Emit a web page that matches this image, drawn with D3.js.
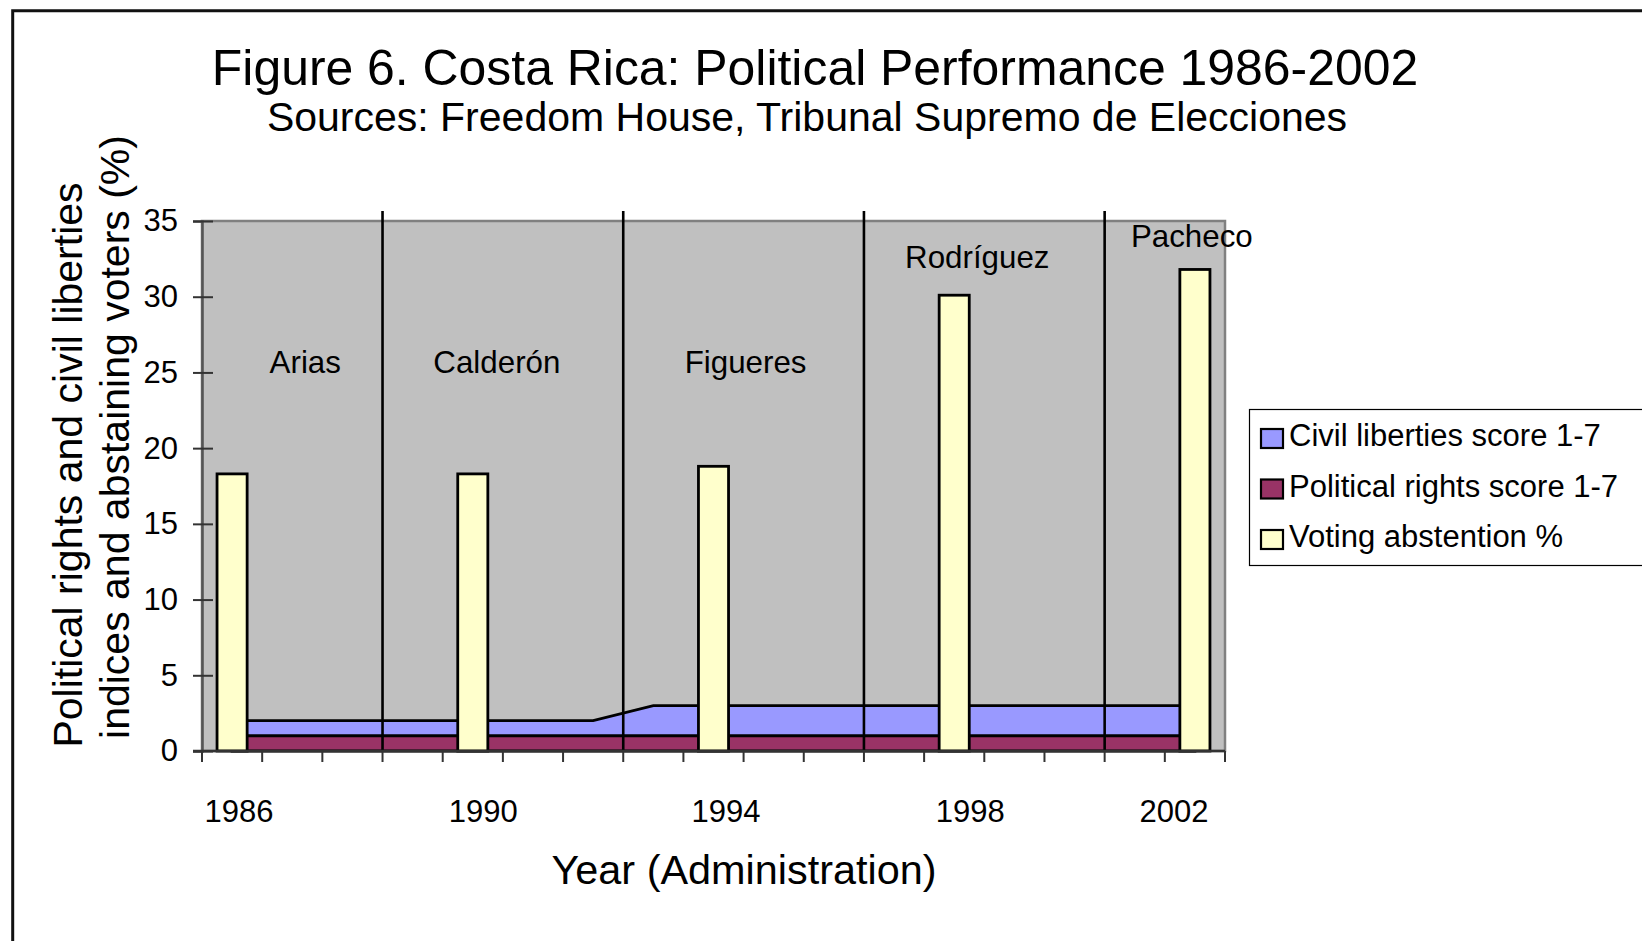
<!DOCTYPE html>
<html>
<head>
<meta charset="utf-8">
<script src="https://cdn.jsdelivr.net/npm/d3@7"></script>
<style>
  html, body { margin: 0; padding: 0; background: #fff; }
  svg { display: block; font-family: "Liberation Sans", Arial, Helvetica, sans-serif; }
</style>
</head>
<body>
<svg id="chart" width="1642" height="941"></svg>
<script>
// Years on the category axis
const years = ["1986","1987","1988","1989","1990","1991","1992","1993","1994",
               "1995","1996","1997","1998","1999","2000","2001","2002"];

// Freedom House political rights score (bottom layer of the stacked area)
const politicalRights = [1,1,1,1,1,1,1,1,1,1,1,1,1,1,1,1,1];
// Freedom House civil liberties score, stacked on top of political rights
const civilLiberties  = [1,1,1,1,1,1,1,2,2,2,2,2,2,2,2,2,2];
// Voting abstention (%) in election years only
const abstention = [18.3,null,null,null,18.3,null,null,null,18.8,
                    null,null,null,30.1,null,null,null,31.8];

// Administrations: name, first and last year shown in its segment
const adminNames = ["Arias","Calderón","Figueres","Rodríguez","Pacheco"];
const adminFrom  = ["1986","1989","1993","1997","2001"];
const adminTo    = ["1988","1992","1996","2000","2002"];

// Axis ticks
const yTicks = [0,5,10,15,20,25,30,35];
const xTickLabels = ["1986","1990","1994","1998","2002"];

// Legend entries
const legendLabels = ["Civil liberties score 1-7","Political rights score 1-7","Voting abstention %"];

// ---- layout ----
const plot = {left: 202, right: 1225, top: 221, bottom: 751};
const colors = {plotBg: "#C0C0C0", civil: "#9999FF", political: "#993366", bar: "#FFFFCC"};
const labelNudge = [13, -6, 2, -7, 27];          // horizontal tweak of administration names
const labelBaseline = [373, 373, 373, 268, 247];  // baselines of administration names
const xLabelNudge = [7, 10.5, 12.5, 16, -21];     // horizontal tweak of year labels

const svg = d3.select("#chart");

const x = d3.scaleBand().domain(years).range([plot.left, plot.right]).paddingInner(0).paddingOuter(0);
const y = d3.scaleLinear().domain([0, 35]).range([plot.bottom, plot.top]);
const bw = x.bandwidth();
const cx = d => x(d) + bw / 2;

// Outer frame of the figure
svg.append("path")
  .attr("d", "M12.7,941 V10.7 H1642")
  .attr("fill", "none").attr("stroke", "#111").attr("stroke-width", 3);

// Title and subtitle
svg.append("text").attr("x", 815).attr("y", 85).attr("text-anchor", "middle")
  .attr("font-size", 49.9).attr("fill", "#000")
  .text("Figure 6. Costa Rica: Political Performance 1986-2002");
svg.append("text").attr("x", 807).attr("y", 131).attr("text-anchor", "middle")
  .attr("font-size", 41).attr("fill", "#000")
  .text("Sources: Freedom House, Tribunal Supremo de Elecciones");

// Plot background
svg.append("rect")
  .attr("x", plot.left).attr("y", plot.top)
  .attr("width", plot.right - plot.left).attr("height", plot.bottom - plot.top)
  .attr("fill", colors.plotBg).attr("stroke", "#808080").attr("stroke-width", 2.5);

// Stacked areas: political rights below, civil liberties above
const table = years.map((yr, i) => ({year: yr, political: politicalRights[i], civil: civilLiberties[i]}));
const stack = d3.stack().keys(["political", "civil"]);
const layers = stack(table);
const area = d3.area()
  .x(d => cx(d.data.year))
  .y0(d => y(d[0]))
  .y1(d => y(d[1]));
const layerFill = {political: colors.political, civil: colors.civil};

svg.append("g").selectAll("path")
  .data(layers.slice().reverse())
  .join("path")
  .attr("d", area)
  .attr("fill", d => layerFill[d.key])
  .attr("stroke", "#000")
  .attr("stroke-width", 2.8)
  .attr("stroke-linejoin", "miter");

// Abstention columns
const barW = bw * 0.5;
svg.append("g").selectAll("rect")
  .data(years.map((yr, i) => ({year: yr, v: abstention[i]})).filter(d => d.v != null))
  .join("rect")
  .attr("x", d => cx(d.year) - barW / 2)
  .attr("y", d => y(d.v))
  .attr("width", barW)
  .attr("height", d => y(0) - y(d.v))
  .attr("fill", colors.bar)
  .attr("stroke", "#000")
  .attr("stroke-width", 2.8);

// Administration boundaries
svg.append("g").selectAll("line")
  .data(adminFrom.slice(1))
  .join("line")
  .attr("x1", d => x(d)).attr("x2", d => x(d))
  .attr("y1", plot.top - 10).attr("y2", plot.bottom)
  .attr("stroke", "#000").attr("stroke-width", 2.6);

// Administration names
svg.append("g").selectAll("text")
  .data(adminNames)
  .join("text")
  .attr("x", (d, i) => (x(adminFrom[i]) + x(adminTo[i]) + bw) / 2 + labelNudge[i])
  .attr("y", (d, i) => labelBaseline[i])
  .attr("text-anchor", "middle")
  .attr("font-size", 31.3)
  .attr("fill", "#000")
  .text(d => d);

// Y axis with crossing ticks
const yAxis = svg.append("g")
  .attr("transform", `translate(${plot.left},0)`)
  .call(d3.axisLeft(y).tickValues(yTicks).tickSize(9).tickPadding(15).tickFormat(d3.format("d")));
yAxis.select(".domain").attr("stroke", "#555").attr("stroke-width", 2.5);
yAxis.selectAll(".tick line").attr("x1", 11).attr("stroke", "#333").attr("stroke-width", 2);
yAxis.selectAll(".tick text").attr("font-size", 31).attr("fill", "#000")
  .attr("font-family", "'Liberation Sans', Arial, sans-serif");

// X axis line and category boundary ticks
const xAxis = svg.append("g");
xAxis.append("line")
  .attr("x1", plot.left - 9).attr("x2", plot.right)
  .attr("y1", plot.bottom).attr("y2", plot.bottom)
  .attr("stroke", "#333").attr("stroke-width", 2.5);
xAxis.selectAll("line.tick")
  .data(years.map(d => x(d)).concat([plot.right]))
  .join("line")
  .attr("class", "tick")
  .attr("x1", d => d).attr("x2", d => d)
  .attr("y1", plot.bottom).attr("y2", plot.bottom + 11)
  .attr("stroke", "#333").attr("stroke-width", 2);
xAxis.selectAll("text")
  .data(xTickLabels)
  .join("text")
  .attr("x", (d, i) => cx(d) + xLabelNudge[i])
  .attr("y", 822)
  .attr("text-anchor", "middle")
  .attr("font-size", 31)
  .attr("fill", "#000")
  .text(d => d);

// Axis titles
svg.append("text").attr("x", 744).attr("y", 884).attr("text-anchor", "middle")
  .attr("font-size", 41.4).attr("fill", "#000").text("Year (Administration)");
svg.append("text").attr("transform", "translate(82,465) rotate(-90)").attr("text-anchor", "middle")
  .attr("font-size", 41).attr("fill", "#000").text("Political rights and civil liberties");
svg.append("text").attr("transform", "translate(129,437) rotate(-90)").attr("text-anchor", "middle")
  .attr("font-size", 41).attr("fill", "#000").text("indices and abstaining voters (%)");

// Legend
const legend = svg.append("g");
legend.append("rect")
  .attr("x", 1249.5).attr("y", 409.5).attr("width", 420).attr("height", 156)
  .attr("fill", "#fff").attr("stroke", "#000").attr("stroke-width", 1.2);
const legendColors = [colors.civil, colors.political, colors.bar];
const rows = legend.selectAll("g.row")
  .data(legendLabels)
  .join("g")
  .attr("class", "row")
  .attr("transform", (d, i) => `translate(0,${446 + i * 50.5})`);
rows.append("rect")
  .attr("x", 1261).attr("y", -17).attr("width", 22).attr("height", 19)
  .attr("fill", (d, i) => legendColors[i]).attr("stroke", "#000").attr("stroke-width", 2.2);
rows.append("text")
  .attr("x", 1289).attr("y", 0)
  .attr("font-size", 31).attr("fill", "#000")
  .text(d => d);
</script>
</body>
</html>
